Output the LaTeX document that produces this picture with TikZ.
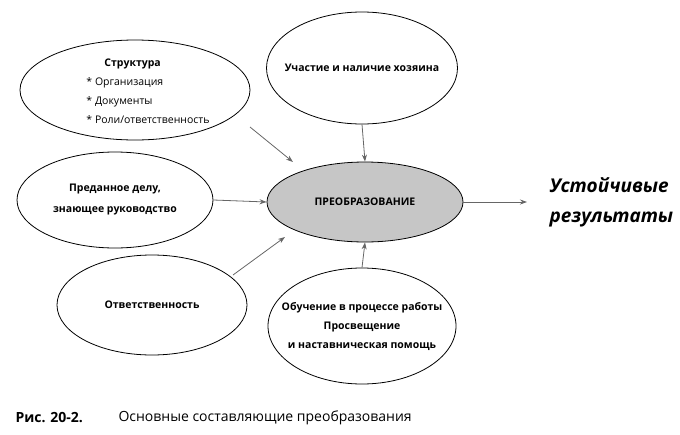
\documentclass[tikz,border=0pt]{standalone}
\usepackage{fontspec}
\setmainfont{Open Sans}
\usetikzlibrary{shapes.geometric,arrows.meta}
\begin{document}
\begin{tikzpicture}[x=1pt,y=-1pt,
  ell/.style={draw=black,line width=0.8pt,ellipse,inner sep=0pt},
  lbl/.style={font=\fontsize{10.5}{15}\selectfont\bfseries,align=center},
  arr/.style={draw=gray!80!black,line width=0.8pt,-{Stealth[length=7pt,width=5pt]}}]
\useasboundingbox (0,0) rectangle (680,434);
\node[ell,minimum width=230,minimum height=100] (s) at (135,90) {};
\node[align=left,font=\fontsize{10.5}{19}\selectfont] at (148,91) {\hspace*{18pt}\textbf{Структура}\\* Организация\\* Документы\\* Роли/ответственность};
\node[ell,minimum width=191,minimum height=112] (p) at (362,68) {};
\node[lbl] at (362,68) {Участие и наличие хозяина};
\node[ell,minimum width=196,minimum height=96] (d) at (115,200) {};
\node[lbl,font=\fontsize{10.5}{21}\selectfont\bfseries] at (115,200) {Преданное делу,\\знающее руководство};
\node[ell,fill=gray!45,minimum width=196,minimum height=80] (t) at (365,202) {};
\node[lbl] at (365,202) {ПРЕОБРАЗОВАНИЕ};
\node[ell,minimum width=190,minimum height=100] (r) at (152,305) {};
\node[lbl] at (152,305) {Ответственность};
\node[ell,minimum width=188,minimum height=116] (l) at (362,326) {};
\node[lbl,font=\fontsize{10.5}{19}\selectfont\bfseries] at (362,326) {Обучение в процессе работы\\Просвещение\\и наставническая помощь};
\node[font=\fontsize{19}{30}\selectfont\bfseries\itshape,align=left,anchor=west] (res) at (546,202) {Устойчивые\\результаты};
\coordinate (a1) at (250,127); \coordinate (a2) at (293,162);
\draw[arr] (a1) -- (a2);
\draw[arr] (p.south) -- (t.north);
\draw[arr] (d.east) -- (t.west);
\coordinate (b1) at (233,275); \coordinate (b2) at (285,237);
\draw[arr] (b1) -- (b2);
\draw[arr] (l.north) -- (t.south);
\coordinate (e) at (527,202);
\draw[arr] (t.east) -- (e);
\node[anchor=west,font=\fontsize{14}{16}\selectfont\bfseries] (c1) at (12,418) {Рис. 20-2.};
\node[anchor=west,font=\fontsize{14}{16}\selectfont] (c2) at (115,418) {Основные составляющие преобразования};
\end{tikzpicture}
\end{document}
